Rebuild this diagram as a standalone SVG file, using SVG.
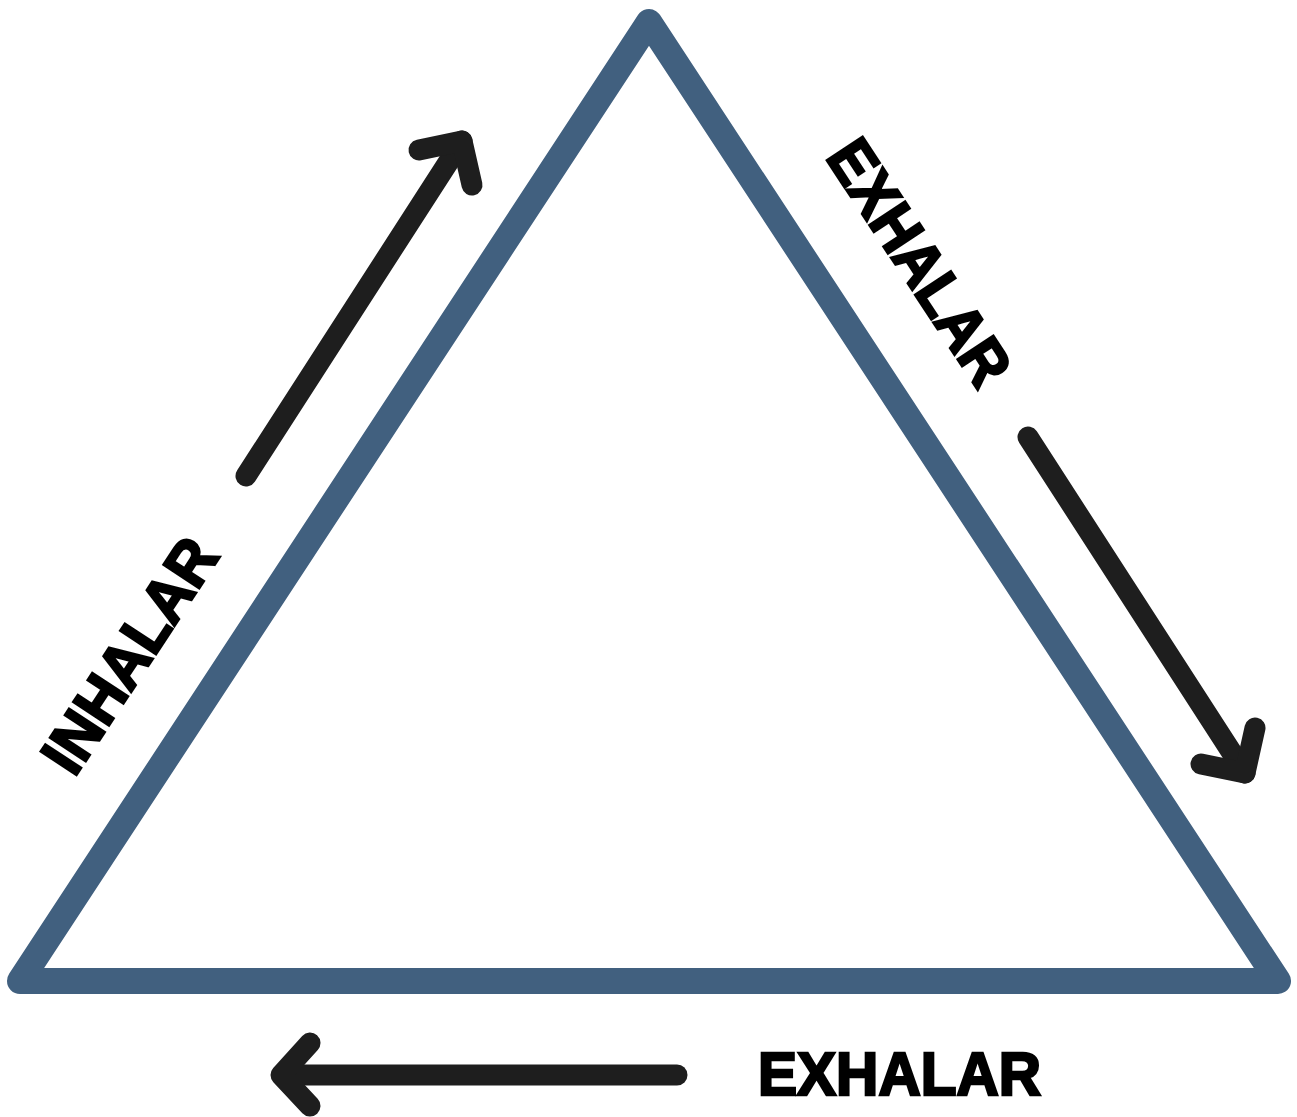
<svg xmlns="http://www.w3.org/2000/svg" width="1297" height="1117" viewBox="0 0 1297 1117">
<style>
.tri{fill:none;stroke:#41607f;stroke-width:26;stroke-linejoin:round;stroke-linecap:round}
.arr{fill:none;stroke:#1e1e1e;stroke-width:21;stroke-linecap:round;stroke-linejoin:round}
.lbl{font-family:"Liberation Sans",Arial,sans-serif;font-weight:bold;font-size:62px;fill:#000;stroke:#000;stroke-width:2.6;stroke-linejoin:miter}
</style>
<rect width="1297" height="1117" fill="#fff"/>
<g id="triangle">
<polygon class="tri" points="649,22 1278,981 20,981"/>
</g>
<g id="connectors">
<g id="arrow-inhalar">
<line class="arr" x1="246" y1="476" x2="462" y2="141"/>
<polyline class="arr" points="419,150 462,141 472,185"/>
</g>
<g id="arrow-exhalar-right">
<line class="arr" x1="1028" y1="437" x2="1245" y2="773"/>
<polyline class="arr" points="1255,728 1245,773 1201,764"/>
</g>
<g id="arrow-exhalar-bottom">
<line class="arr" x1="677" y1="1075" x2="282" y2="1075"/>
<polyline class="arr" points="310,1043 281,1075 310,1106"/>
</g>
</g>
<g id="label-inhalar">
<text class="lbl" transform="translate(129,655) rotate(-56.7)" x="0" y="22" text-anchor="middle" textLength="266" lengthAdjust="spacingAndGlyphs">INHALAR</text>
</g>
<g id="label-exhalar-right">
<text class="lbl" transform="translate(920,262) rotate(56.7)" x="0" y="22" text-anchor="middle" textLength="280" lengthAdjust="spacingAndGlyphs">EXHALAR</text>
</g>
<g id="label-exhalar-bottom">
<text class="lbl" x="758" y="1095" textLength="283" lengthAdjust="spacingAndGlyphs">EXHALAR</text>
</g>
</svg>
